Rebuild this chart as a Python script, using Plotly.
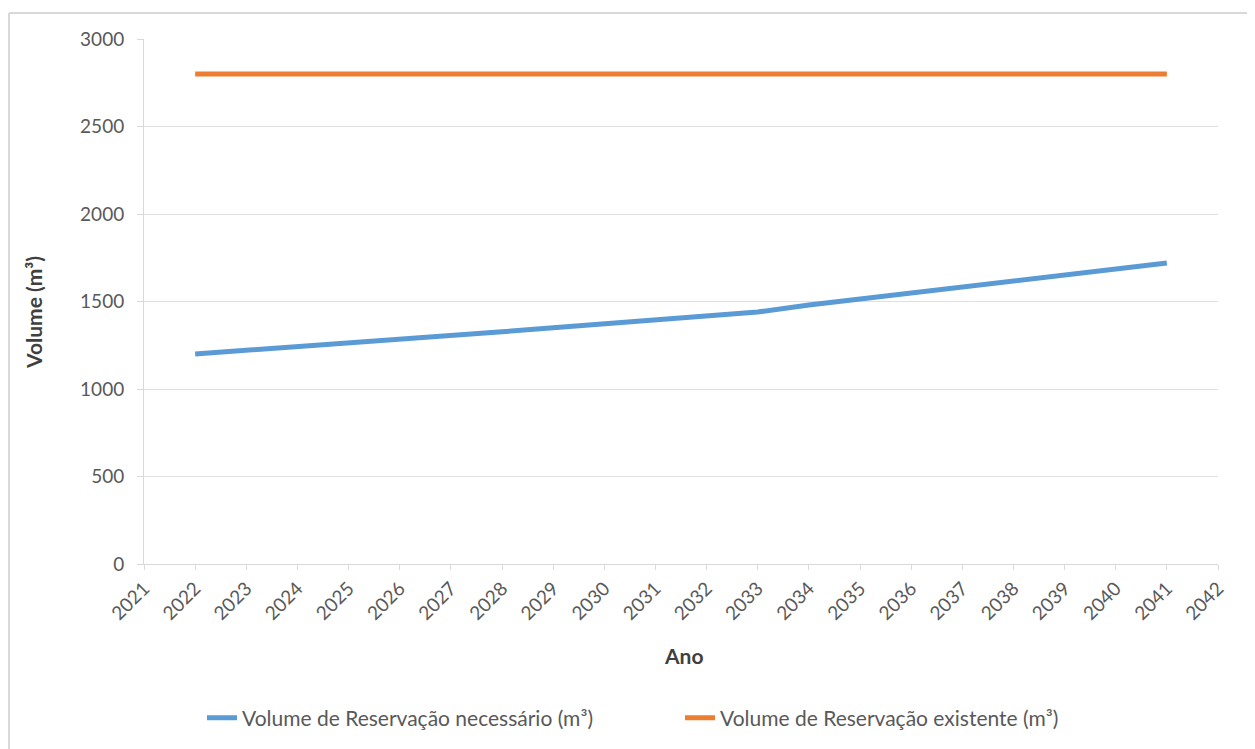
import plotly.graph_objects as go

anos = list(range(2022, 2042))
vol_necessario = [1200, 1220, 1240, 1262, 1284, 1305, 1327, 1350, 1372, 1395,
                  1418, 1440, 1480, 1515, 1550, 1585, 1620, 1652, 1686, 1720]
vol_existente = [2800] * len(anos)
x_ticks = list(range(2021, 2043))
y_ticks = [0, 500, 1000, 1500, 2000, 2500, 3000]

FONT = "Lato, 'Open Sans', sans-serif"
GRAY = "#595959"
TITLE_GRAY = "#404040"

fig = go.Figure()
fig.add_trace(go.Scatter(x=anos, y=vol_necessario, mode="lines",
                         name="Volume de Reservação necessário (m³)",
                         line=dict(color="#5B9BD5", width=5)))
fig.add_trace(go.Scatter(x=anos, y=vol_existente, mode="lines",
                         name="Volume de Reservação existente (m³)",
                         line=dict(color="#ED7D31", width=5)))

OFF = 8  # default page body margin
W, H = 1255 - OFF, 749 - OFF
L, T = 144 - OFF, 39 - OFF
pw, ph = 1074, 525
R, B = W - L - pw, H - T - ph

# helpers take page (screenshot) pixel coordinates
def px_x(p):
    return (p - OFF - L) / pw

def px_y(p):
    return (T + ph - (p - OFF)) / ph

fig.update_layout(
    width=W, height=H,
    margin=dict(l=L, r=R, t=T, b=B, autoexpand=False),
    paper_bgcolor="white", plot_bgcolor="white",
    font=dict(family=FONT, size=19, color=GRAY),
    showlegend=True,
    legend=dict(orientation="h", x=px_x(212) - 10 / pw, xanchor="left", y=px_y(718), yanchor="middle",
                font=dict(size=21, color=GRAY), tracegroupgap=0,
                entrywidth=433, entrywidthmode="pixels"),
    xaxis=dict(range=[2021, 2042], tickmode="array", tickvals=x_ticks,
               ticktext=[str(t) for t in x_ticks], tickangle=-45, automargin=False,
               showgrid=False, zeroline=False, showline=True, linecolor="#d9d9d9",
               linewidth=1, ticks="outside", ticklen=5, tickcolor="#d9d9d9",
               tickfont=dict(size=19, color=GRAY)),
    yaxis=dict(range=[0, 3000], tickmode="array", tickvals=y_ticks, automargin=False,
               showgrid=True, gridcolor="#e0e0e0", gridwidth=1, zeroline=False,
               showline=True, linecolor="#d9d9d9", linewidth=1,
               ticks="outside", ticklen=6, tickcolor="#d9d9d9",
               tickfont=dict(size=19, color=GRAY), ticklabelstandoff=9),
)

# axis titles
fig.add_annotation(text="<b>Ano</b>", xref="paper", yref="paper",
                   x=px_x(683), y=px_y(655), showarrow=False,
                   xanchor="center", yanchor="middle",
                   font=dict(size=21, color=TITLE_GRAY, family=FONT))
fig.add_annotation(text="<b>Volume (m³)</b>", xref="paper", yref="paper",
                   x=px_x(33), y=px_y(313), showarrow=False, textangle=-90,
                   xanchor="center", yanchor="middle",
                   font=dict(size=21, color=TITLE_GRAY, family=FONT))

# outer chart frame (left and top edges visible)
fig.add_shape(type="line", xref="paper", yref="paper",
              x0=px_x(9), x1=px_x(9), y0=px_y(13), y1=px_y(760),
              line=dict(color="#d9d9d9", width=2))
fig.add_shape(type="line", xref="paper", yref="paper",
              x0=px_x(9), x1=px_x(1265), y0=px_y(13), y1=px_y(13),
              line=dict(color="#d9d9d9", width=2))

fig.write_html("out.html")
